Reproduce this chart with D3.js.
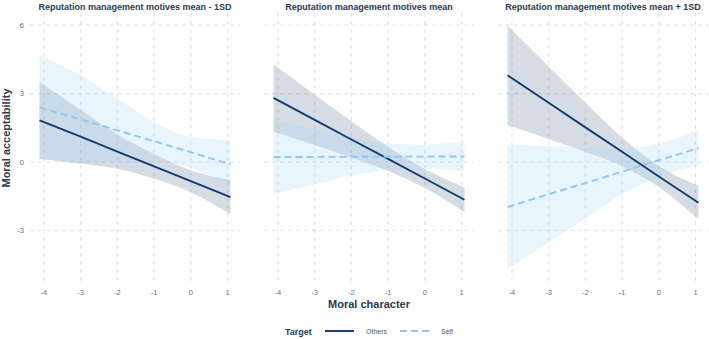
<!DOCTYPE html>
<html><head><meta charset="utf-8">
<script src="https://cdn.jsdelivr.net/npm/d3@7"></script>
<style>
html,body{margin:0;padding:0;background:#fff;}
svg{display:block;font-family:"Liberation Sans",Arial,sans-serif;}
</style></head>
<body><svg id="c" width="709" height="339"></svg>
<script>
// ---- data ----
const panelTitles = ["Reputation management motives mean - 1SD","Reputation management motives mean","Reputation management motives mean + 1SD"];
const targets = ["Others","Self"];
const xTicks = [-4,-3,-2,-1,0,1];
const yTicks = [-3,0,3,6];
const xAt = [-4.12,-3,-2,-1,0,1.08];

const othersFit1 = [1.83, 1.11, 0.46, -0.19, -0.84, -1.54];
const othersLo1  = [0.15, -0.07, -0.29, -0.73, -1.32, -2.29];
const othersHi1  = [3.51, 2.29, 1.21, 0.35, -0.36, -0.79];
const selfFit1   = [2.41, 1.87, 1.39, 0.91, 0.43, -0.10];
const selfLo1    = [0.14, -0.02, -0.02, 0.02, -0.25, -1.12];
const selfHi1    = [4.68, 3.80, 2.78, 1.75, 1.10, 0.95];

const othersFit2 = [2.81, 1.85, 0.99, 0.14, -0.72, -1.65];
const othersLo2  = [1.34, 0.75, 0.19, -0.39, -1.14, -2.20];
const othersHi2  = [4.28, 2.95, 1.79, 0.67, -0.30, -1.10];
const selfFit2   = [0.22, 0.225, 0.23, 0.235, 0.24, 0.245];
const selfLo2    = [-1.39, -0.98, -0.59, -0.35, -0.28, -0.43];
const selfHi2    = [1.83, 1.43, 1.05, 0.82, 0.76, 0.93];

const othersFit3 = [3.80, 2.60, 1.52, 0.45, -0.63, -1.78];
const othersLo3  = [1.62, 1.01, 0.44, -0.18, -1.09, -2.51];
const othersHi3  = [5.98, 4.19, 2.60, 1.08, -0.17, -1.03];
const selfFit3   = [-1.97, -1.41, -0.92, -0.42, 0.08, 0.61];
const selfLo3    = [-4.68, -3.51, -2.47, -1.42, -0.64, -0.17];
const selfHi3    = [0.76, 0.69, 0.63, 0.58, 0.80, 1.39];

const panelData = [
  {others:{fit:othersFit1,lo:othersLo1,hi:othersHi1}, self:{fit:selfFit1,lo:selfLo1,hi:selfHi1}},
  {others:{fit:othersFit2,lo:othersLo2,hi:othersHi2}, self:{fit:selfFit2,lo:selfLo2,hi:selfHi2}},
  {others:{fit:othersFit3,lo:othersLo3,hi:othersHi3}, self:{fit:selfFit3,lo:selfLo3,hi:selfHi3}}
];

// ---- layout ----
const svg = d3.select("#c");
const panelLeft = [30, 264, 498];
const panelW = 210, pTop = 13, pBottom = 281;
const y = d3.scaleLinear().domain([-5.21, 6.53]).range([pBottom, pTop]);
const titleCol = "#2c3a4d", tickCol = "#6a7380", gridCol = "#e3e3e3";
const othersCol = "#0f3b73", selfCol = "#8ec8f2";

panelLeft.forEach((pl, i) => {
  const x = d3.scaleLinear().domain([-4.38, 1.34]).range([pl, pl + panelW]);
  const g = svg.append("g");
  g.selectAll(".hg").data(yTicks).join("line")
    .attr("x1", pl).attr("x2", pl + panelW).attr("y1", d => y(d)).attr("y2", d => y(d))
    .attr("stroke", gridCol).attr("stroke-width", 1.1).attr("stroke-dasharray", "4,4");
  g.selectAll(".vg").data(xTicks).join("line")
    .attr("y1", pTop).attr("y2", pBottom).attr("x1", d => x(d)).attr("x2", d => x(d))
    .attr("stroke", gridCol).attr("stroke-width", 1.1).attr("stroke-dasharray", "4,4");

  const pd = panelData[i];
  const area = (s) => d3.area().x((d, k) => x(xAt[k])).y0((d, k) => y(s.lo[k])).y1((d, k) => y(s.hi[k])).curve(d3.curveMonotoneX);
  const line = (s) => d3.line().x((d, k) => x(xAt[k])).y((d, k) => y(s.fit[k]));
  g.append("path").attr("d", area(pd.others)(xAt)).attr("fill", "#2e4e75").attr("fill-opacity", 0.2);
  g.append("path").attr("d", area(pd.self)(xAt)).attr("fill", "#a9d6f8").attr("fill-opacity", 0.25);
  g.append("path").attr("d", line(pd.others)(xAt)).attr("fill", "none").attr("stroke", othersCol).attr("stroke-width", 1.9);
  g.append("path").attr("d", line(pd.self)(xAt)).attr("fill", "none").attr("stroke", selfCol).attr("stroke-width", 1.9).attr("stroke-dasharray", "7,4");

  g.selectAll(".xt").data(xTicks).join("text")
    .attr("x", d => x(d)).attr("y", 295).attr("text-anchor", "middle")
    .attr("font-size", 7.5).attr("fill", tickCol).text(d => d);
  g.append("text").attr("x", pl + panelW / 2).attr("y", 10).attr("text-anchor", "middle")
    .attr("font-size", 9).attr("font-weight", "bold").attr("fill", titleCol).text(panelTitles[i]);
  if (i === 0) {
    g.selectAll(".yt").data(yTicks).join("text")
      .attr("x", 24).attr("y", d => y(d) + 2.7).attr("text-anchor", "end")
      .attr("font-size", 7.5).attr("fill", tickCol).text(d => d);
  }
});

svg.append("text").attr("x", 369).attr("y", 308).attr("text-anchor", "middle")
  .attr("font-size", 11).attr("font-weight", "bold").attr("fill", titleCol).text("Moral character");
svg.append("text").attr("transform", "translate(10,138) rotate(-90)")
  .attr("text-anchor", "middle").attr("font-size", 11).attr("font-weight", "bold").attr("fill", titleCol).text("Moral acceptability");

const lg = svg.append("g");
const ly = 331;
lg.append("text").attr("x", 285).attr("y", ly + 3.5).attr("font-size", 9).attr("font-weight", "bold").attr("fill", titleCol).text("Target");
const legItems = [
  {label: targets[0], x0: 325, tx: 366, col: othersCol, dash: null},
  {label: targets[1], x0: 400, tx: 441, col: selfCol, dash: "7,4"}
];
legItems.forEach(it => {
  lg.append("line").attr("x1", it.x0).attr("x2", it.x0 + 29).attr("y1", ly).attr("y2", ly)
    .attr("stroke", it.col).attr("stroke-width", 1.9).attr("stroke-dasharray", it.dash);
  lg.append("text").attr("x", it.tx).attr("y", ly + 2.5).attr("font-size", 7).attr("fill", "#4f5d6e").text(it.label);
});
</script></body></html>
